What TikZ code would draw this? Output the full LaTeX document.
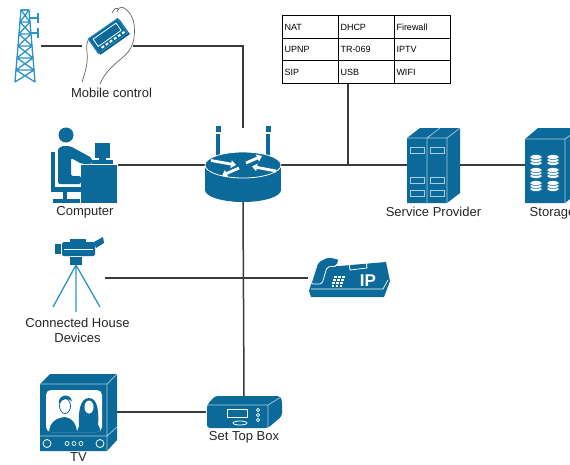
\documentclass[tikz,border=0pt]{standalone}
\usepackage{fontspec}
\setmainfont{Liberation Sans}
\usetikzlibrary{arrows.meta, positioning, matrix}
\definecolor{ciscoblue}{HTML}{0B6A9A}
\definecolor{mastblue}{HTML}{2C93C9}
\definecolor{wire}{HTML}{3A3A3A}

\begin{document}
\begin{tikzpicture}[x=1pt, y=-1pt,
    slot/.style={inner sep=0pt, outer sep=0pt},
    lbl/.style={font=\fontsize{13}{15}\selectfont, inner sep=1pt, align=center, text=black!85},
    link/.style={draw=wire, line width=1.5pt},
    cell/.style={draw=black, line width=1.3pt, minimum width=56pt, minimum height=22.5pt,
                 text width=52pt, align=left, inner sep=1.5pt, font=\fontsize{9}{10}\selectfont},
    icon/.style={fill=ciscoblue},
    facet/.style={draw=ciscoblue!35!white, line width=0.7pt},
    mast/.style={draw=mastblue, line width=1.3pt},
    palm/.style={draw=black!60, line width=0.7pt},
    flow/.style={draw=white, line width=2.8pt, -{Triangle[length=5pt, width=7.5pt]}}
  ]
  \path[fill=white, use as bounding box] (0,0) rectangle (570,464);

  % placeholders for the devices
  \node[slot, minimum width=28pt, minimum height=74pt] (tower) at (27,46) {};
  \node[slot, minimum width=51pt, minimum height=77pt] (hand) at (107.5,46) {};
  \node[slot, minimum width=76pt, minimum height=74pt] (router) at (243,165) {};
  \node[slot, minimum width=66pt, minimum height=74pt] (computer) at (85,165) {};
  \node[slot, minimum width=53pt, minimum height=76pt] (server) at (433.5,165) {};
  \node[slot, minimum width=53pt, minimum height=76pt] (storage) at (552.5,165) {};
  \node[slot, minimum width=55pt, minimum height=76pt] (camera) at (77.5,278) {};
  \node[slot, minimum width=82pt, minimum height=38pt] (phone) at (349,278) {};
  \node[slot, minimum width=77pt, minimum height=76pt] (tv) at (78.5,412) {};
  \node[slot, minimum width=76pt, minimum height=32pt] (stb) at (244,412) {};

  \matrix (features) [matrix of nodes, nodes={cell}, column sep=-1.3pt, row sep=-1.3pt,
                      inner sep=0pt] at (366.5,49.5) {
    NAT  & DHCP   & Firewall \\
    UPNP & TR-069 & IPTV \\
    SIP  & USB    & WIFI \\
  };
  \coordinate (tap) at (348,165);

  % connections
  \draw[link] (tower.east) -- (hand.west);
  \draw[link] (hand.east) -| (router.north);
  \draw[link] (features.south -| tap) -- (tap);
  \draw[link] (computer.east) -- (router.west);
  \draw[link] (router.east) -- (server.west);
  \draw[link] (server.east) -- (storage.west);
  \draw[link] (router.south) -- (stb.north);
  \draw[link] (camera.east) -- (phone.west);
  \draw[link] (tv.east) -- (stb.west);

  % radio mast
  \draw[mast] (15,82) -- (21,10) -- (29,10) -- (35,82);
  \foreach \ya [evaluate=\ya as \yb using \ya+12,
                evaluate=\ya as \la using 15+(82-\ya)/12,
                evaluate=\ya as \ra using 35-(82-\ya)/12,
                evaluate=\ya as \lb using 15+(70-\ya)/12,
                evaluate=\ya as \rb using 35-(70-\ya)/12] in {10,22,...,70}
    \draw[mast] (\la,\ya) -- (\rb,\yb) (\ra,\ya) -- (\lb,\yb) (\la,\ya) -- (\ra,\ya);
  \draw[mast] (29,18) -- (38,18) (38,13) -- (38,23) (30,33) -- (38,33) (38,28) -- (38,38);

  % hand holding the handheld
  \draw[palm] (82,82) .. controls (86,70) and (88,62) .. (87,52) .. controls (86,46) and (87,40) .. (90,38);
  \draw[palm] (100,84) .. controls (104,74) and (112,66) .. (122,58) .. controls (132,50) and (136,40) .. (134,24)
              .. controls (133,16) and (128,10) .. (124,8) .. controls (121,6) and (118,8) .. (117,12);
  \draw[palm] (119,10) .. controls (117,7) and (114,8) .. (112,13);
  \begin{scope}[shift={(108,36)}, rotate=35]
    \fill[ciscoblue!80!black] (-17,-7) rectangle (19,11);
    \filldraw[fill=ciscoblue, draw=mastblue, line width=0.8pt] (-18,-9) rectangle (18,9);
    \draw[white, line width=0.8pt] (-14,-6) rectangle (14,3);
    \foreach \k in {-12,-7,...,13}
      \fill[white] (\k,5) rectangle +(3,2);
  \end{scope}

  % wireless router
  \fill[icon] (216,134) rectangle (220,158);
  \fill[icon] (215.5,126) rectangle (220.5,132);
  \fill[icon] (266,134) rectangle (270,158);
  \fill[icon] (265.5,126) rectangle (270.5,132);
  \fill[icon] (205,165) rectangle (281,190);
  \fill[icon] (243,190) ellipse [x radius=38pt, y radius=12pt];
  \filldraw[fill=ciscoblue, draw=white, line width=0.8pt] (243,165) ellipse [x radius=38pt, y radius=13pt];
  \draw[flow] (211,160.5) -- (236,165);
  \draw[flow] (276,171) -- (252,166.5);
  \draw[flow] (246,163) -- (262,156);
  \draw[flow] (239,168) -- (222,175.5);

  % person at a desk
  \fill[icon] (66,135) circle (7.5pt);
  \fill[icon, rounded corners=2pt] (58,152) .. controls (58,148) and (62,146) .. (66,146)
              -- (70,146) -- (92,158) -- (92,164) -- (82,164) -- (71,158) -- (71,176)
              -- (81,176) -- (81,184) -- (58,184) -- cycle;
  \fill[icon] (51,152) rectangle (55,192);
  \fill[icon] (51,187) rectangle (81,192);
  \fill[icon] (63,192) rectangle (67,200);
  \fill[icon] (53,199) rectangle (80,203);
  \fill[icon] (81,165) rectangle (117,203);
  \fill[icon] (95,143) rectangle (110,158);
  \fill[icon] (92,160) rectangle (113,163.5);
  \fill[icon] (99,157) rectangle (106,160);

  % service provider racks
  \fill[icon] (407,138) -- (420,128) -- (460,128) -- (460,193) -- (447,203) -- (407,203) -- cycle;
  \draw[facet] (407,138) -- (447,138) -- (460,128) (447,138) -- (447,203) (427,138) -- (427,203)
               (427,138) -- (440,128);
  \foreach \px in {410,430} {
    \draw[facet] (\px,147) rectangle +(14,6);
    \draw[facet] (\px,177) rectangle +(14,6);
    \draw[facet] (\px,190) rectangle +(14,6);
  }

  % storage array
  \fill[icon] (525,139) -- (538,128) -- (580,128) -- (580,191) -- (565,203) -- (525,203) -- cycle;
  \draw[facet] (525,139) -- (565,139) -- (580,128) (565,139) -- (565,203);
  \foreach \px in {536,553}
    \foreach \py in {160,173,186}
      \foreach \dy in {3,0,-3}
        \filldraw[fill=white, draw=ciscoblue, line width=0.6pt]
          (\px,\py+\dy) ellipse [x radius=6.5pt, y radius=2.4pt];

  % camera on a tripod
  \draw[mast] (76,265) -- (53,307) (76,265) -- (76,312) (76,265) -- (100,307);
  \fill[icon] (70,257) rectangle (82,265);
  \fill[icon, rounded corners=1.5pt] (62,242) rectangle (95,256);
  \fill[icon] (55,244) rectangle (61,254);
  \fill[icon] (70,239) rectangle (86,242);
  \fill[icon] (94,242) -- (103,237) -- (104,243) -- (96,248) -- cycle;
  \draw[white, line width=0.6pt] (64,249) -- (93,249);

  % IP phone
  \fill[icon] (309,291) -- (316,268) -- (386,262) -- (390,281) -- (384,297) -- (311,297) -- cycle;
  \draw[white, line width=0.7pt] (311,289) -- (383,289) -- (388,280);
  \filldraw[fill=ciscoblue, draw=white, line width=0.8pt, rounded corners=2pt]
    (311,284) -- (318,262) -- (328,257) -- (339,259) -- (337,266) -- (327,267) -- (322,284) -- cycle;
  \draw[white, line width=0.8pt] (349,262) -- (366,260) -- (367,268) -- (350,270) -- cycle;
  \foreach \i in {0,1,2}
    \foreach \j in {0,1,2,3}
      \fill[white] ({334+\i*4-\j*0.8},{276+\j*3}) rectangle +(2.6,2);
  \node[text=white, font=\bfseries\fontsize{17}{17}\selectfont, inner sep=0pt] (iptag) at (368,281) {IP};

  % television
  \fill[icon] (40,384) -- (50,374) -- (117,374) -- (117,440) -- (107,451) -- (40,451) -- cycle;
  \draw[facet] (40,384) -- (107,384) -- (117,374) (107,384) -- (107,451) (40,436) -- (107,436) -- (117,427);
  \fill[white, rounded corners=5pt] (46,390) rectangle (102,432);
  \begin{scope}
    \clip[rounded corners=5pt] (46,390) rectangle (102,432);
    \fill[icon] (49,432) .. controls (50,422) and (56,418) .. (65,417) .. controls (72,418) and (76,423) .. (77,432) -- cycle;
    \filldraw[fill=white, draw=ciscoblue, line width=0.8pt] (65,406) ellipse [x radius=5.5pt, y radius=7.5pt];
    \fill[icon] (59,404) .. controls (57,395) and (70,392) .. (72,401) .. controls (68,398) and (62,398) .. (59,404) -- cycle;
    \fill[icon] (79,427) .. controls (78,412) and (80,398) .. (89,398) .. controls (98,398) and (99,412) .. (98,427) -- cycle;
    \fill[white] (89,407) ellipse [x radius=4.5pt, y radius=6.5pt];
    \fill[icon] (77,432) .. controls (79,423) and (84,420) .. (89,420) .. controls (94,420) and (99,423) .. (101,432) -- cycle;
  \end{scope}
  \draw[white, line width=0.8pt] (47,443.5) circle (4pt) (100,443.5) circle (4pt);
  \foreach \kx in {67,74,81}
    \draw[white, line width=0.7pt] (\kx,443.5) circle (2pt);

  % set top box
  \fill[icon, rounded corners=3pt] (207,405) -- (215,396) -- (280,396) -- (282,400) -- (282,416)
                                   -- (268,428) -- (207,428) -- cycle;
  \draw[facet] (207,405) -- (268,405) -- (281,397) (268,405) -- (268,428);
  \draw[white, line width=0.8pt] (227,409) rectangle (247,417);
  \draw[white, line width=0.8pt] (240,423) ellipse [x radius=7pt, y radius=2pt];
  \foreach \dy in {410,415,420}
    \draw[white, line width=0.6pt] (258,\dy) circle (1.6pt);

  % captions
  \node[lbl, below=2pt of hand, xshift=4pt] (handlbl) {Mobile control};
  \node[lbl, below=3pt of computer] (computerlbl) {Computer};
  \node[lbl, below=3pt of server] (serverlbl) {Service Provider};
  \node[lbl, below=3pt of storage] (storagelbl) {Storage};
  \node[lbl, below=1pt of camera] (cameralbl) {Connected House\\Devices};
  \node[lbl, below=1pt of tv] (tvlbl) {TV};
  \node[lbl, below=2pt of stb] (stblbl) {Set Top Box};
\end{tikzpicture}
\end{document}
